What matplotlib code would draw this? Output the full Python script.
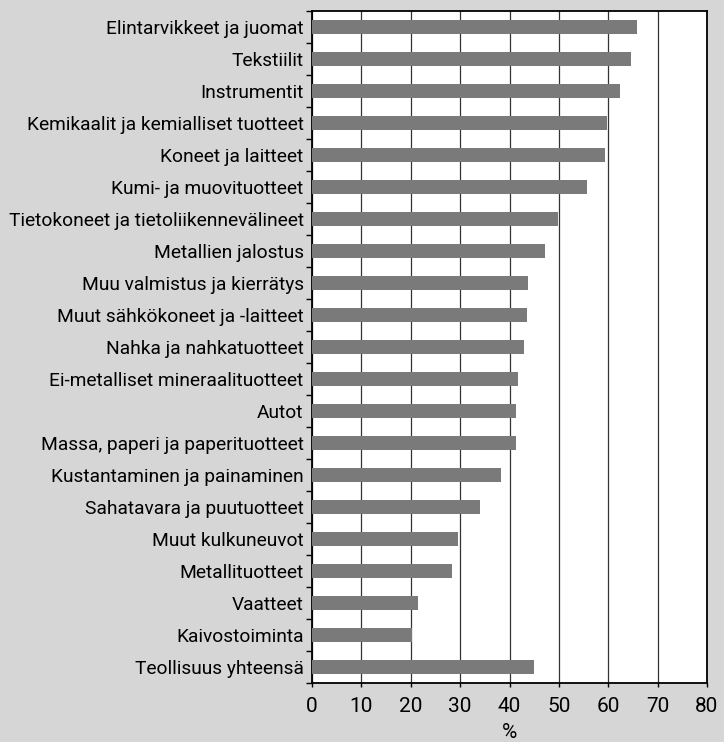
import matplotlib
matplotlib.use("Agg")
import matplotlib.pyplot as plt
from matplotlib.ticker import FixedLocator

categories = [
    "Elintarvikkeet ja juomat",
    "Tekstiilit",
    "Instrumentit",
    "Kemikaalit ja kemialliset tuotteet",
    "Koneet ja laitteet",
    "Kumi- ja muovituotteet",
    "Tietokoneet ja tietoliikennevälineet",
    "Metallien jalostus",
    "Muu valmistus ja kierrätys",
    "Muut sähkökoneet ja -laitteet",
    "Nahka ja nahkatuotteet",
    "Ei-metalliset mineraalituotteet",
    "Autot",
    "Massa, paperi ja paperituotteet",
    "Kustantaminen ja painaminen",
    "Sahatavara ja puutuotteet",
    "Muut kulkuneuvot",
    "Metallituotteet",
    "Vaatteet",
    "Kaivostoiminta",
    "Teollisuus yhteensä",
]
values = [65.9, 64.7, 62.4, 59.7, 59.3, 55.7, 49.9, 47.2, 43.8, 43.6, 42.9,
          41.8, 41.3, 41.3, 38.2, 34.1, 29.6, 28.3, 21.4, 20.3, 44.9]
xticks = [0, 10, 20, 30, 40, 50, 60, 70, 80]

plt.rcParams['font.family'] = ['Roboto', 'DejaVu Sans']

bg = "#d6d6d6"
fig = plt.figure(figsize=(7.24, 7.42), dpi=100, facecolor=bg)
ax = fig.add_axes([312/724, 1 - 683/742, (707-312)/724, (683-11)/742])
ax.set_facecolor("white")

n = len(categories)
ypos = list(range(n))
ax.barh(ypos, values, height=0.45, color="#7a7a7a", zorder=3)
ax.set_ylim(n - 0.5, -0.5)
ax.set_xlim(0, 80)
ax.set_xticks(xticks)
ax.set_xticklabels([str(t) for t in xticks], fontsize=15)
ax.set_yticks(ypos)
ax.set_yticklabels(categories, fontsize=13.8)
ax.tick_params(axis='y', length=0, pad=6)
ax.yaxis.set_minor_locator(FixedLocator([i + 0.5 for i in range(-1, n)]))
ax.tick_params(axis='y', which='minor', length=4, width=1, direction='out')
ax.tick_params(axis='x', length=3, width=1, direction='out', pad=7)
ax.grid(axis='x', color="#333333", linewidth=0.9, zorder=1)
for s in ax.spines.values():
    s.set_linewidth(1.3)
    s.set_color("black")
ax.set_xlabel("%", fontsize=15, labelpad=5)

fig.savefig("out.png", dpi=100, facecolor=bg)
